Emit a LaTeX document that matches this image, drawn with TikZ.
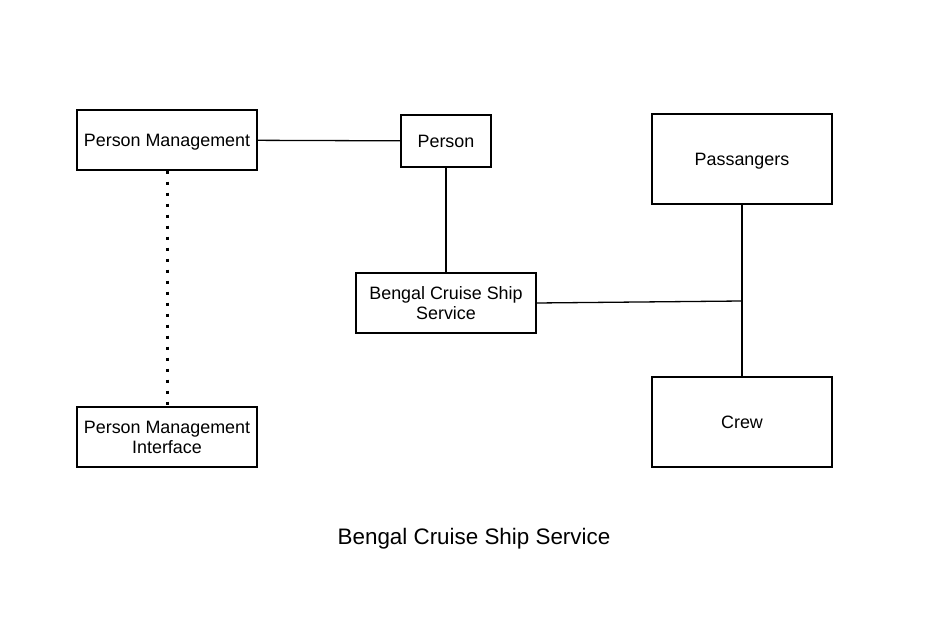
\documentclass[tikz,border=0pt]{standalone}
\usepackage{fontspec}
\setmainfont{Liberation Sans}
\usetikzlibrary{positioning}

\tikzset{
  block/.style={draw,line width=1.3pt,minimum width=180pt,minimum height=60pt,align=center,inner sep=0pt,font=\fontsize{17.9}{20}\selectfont},
  oneline/.style={text depth=0pt},
  link/.style={line width=1.3pt},
  dotlink/.style={line width=3pt,dash pattern=on 3pt off 8pt}
}

\begin{document}
\begin{tikzpicture}[x=1pt,y=-1pt]
  \useasboundingbox (0,0) rectangle (932,628);
  \node[block,oneline] (pm) at (167,140) {Person Management};
  \node[block,minimum width=90pt,minimum height=52pt] (person) at (446,141) {Person};
  \node[block] (bcs) at (446,303) {Bengal Cruise Ship\\Service};
  \node[block,oneline,minimum height=90pt] (pass) at (742,159) {Passangers};
  \node[block,minimum height=90pt] (crew) at (742,422) {Crew};
  \node[block] (pmi) at (167,437) {Person Management\\Interface};
  \node[font=\fontsize{22.4}{26}\selectfont] (title) at (474,539) {Bengal Cruise Ship Service};
  \coordinate (join) at (742,301);
  \draw[link] (pm) -- (person);
  \draw[link] (person) -- (bcs);
  \draw[link] (bcs.east) -- (join);
  \draw[link] (pass) -- (crew);
  \draw[dotlink] (pm) -- (pmi);
\end{tikzpicture}
\end{document}
